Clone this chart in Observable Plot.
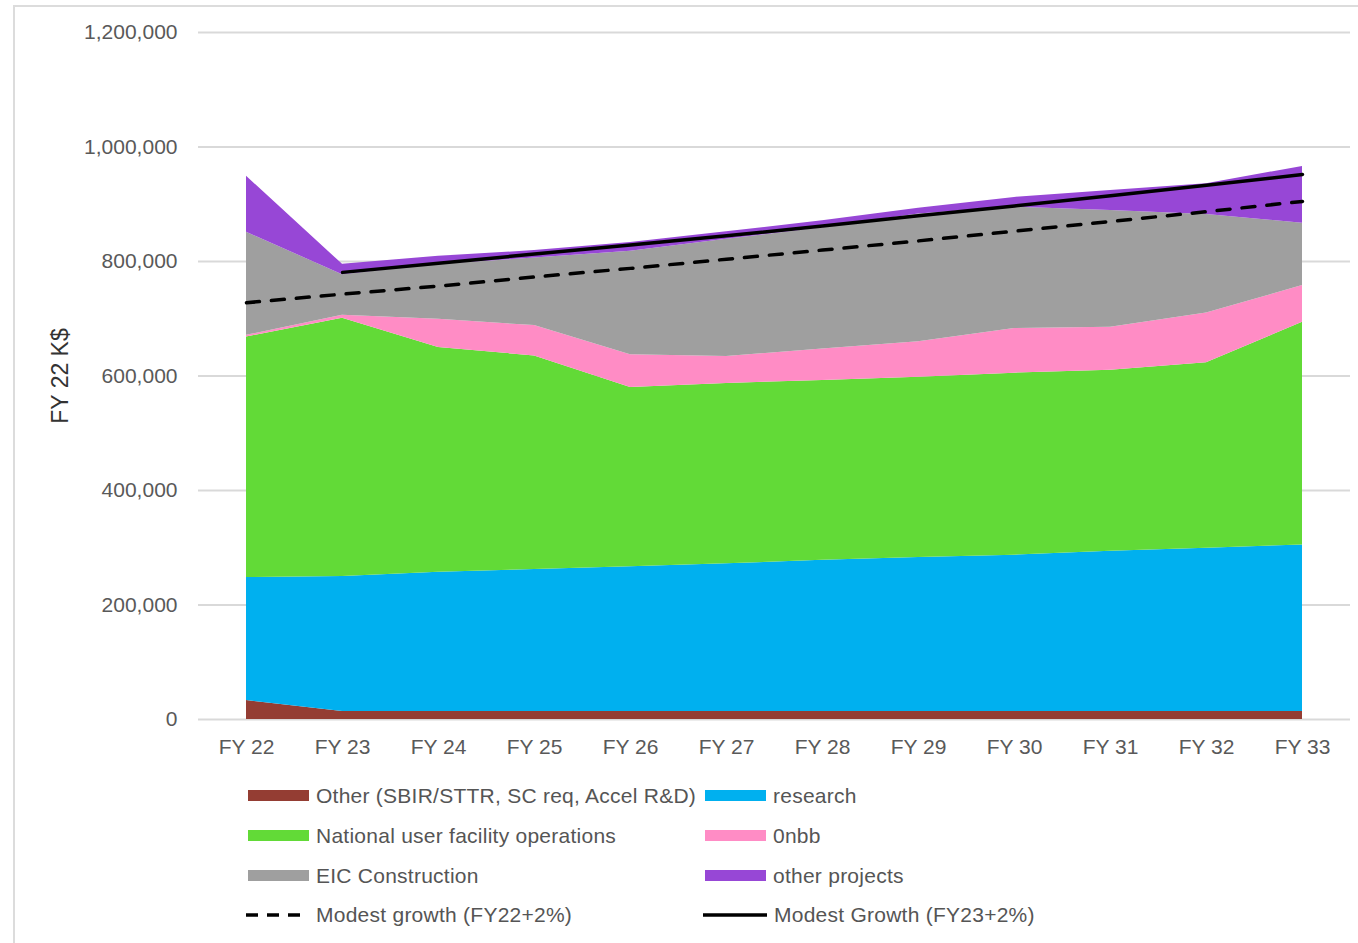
<!DOCTYPE html>
<html>
<head>
<meta charset="utf-8">
<script src="https://cdn.jsdelivr.net/npm/d3@7"></script>
<script src="https://cdn.jsdelivr.net/npm/@observablehq/plot@0.6"></script>
<style>
  body { margin: 0; background: #fff; font-family: "Liberation Sans", Arial, Helvetica, sans-serif; }
  #frame { position: absolute; left: 13px; top: 5px; width: 1360px; height: 960px; border-left: 2px solid #dcdcdc; border-top: 2px solid #dcdcdc; }
  #chart { position: absolute; left: 0; top: 0; }
  .leg { position: absolute; display: flex; align-items: center; font-size: 21px; color: #555; white-space: nowrap; letter-spacing: 0.25px; }
  .leg svg { margin-right: 7px; }
</style>
</head>
<body>
<div id="frame"></div>
<div id="chart"></div>
<div id="legend"></div>
<script>
const years = ["FY 22","FY 23","FY 24","FY 25","FY 26","FY 27","FY 28","FY 29","FY 30","FY 31","FY 32","FY 33"];
const otherSBIR = [33000, 14000, 14000, 14000, 14000, 14000, 14000, 14000, 14000, 14000, 14000, 14000];
const research = [215000, 236000, 243000, 248000, 253000, 258000, 264000, 269000, 273000, 280000, 285000, 291000];
const facilityOps = [420000, 451000, 393000, 373000, 313000, 315000, 314000, 315000, 318000, 316000, 324000, 389000];
const onbb = [3000, 5000, 49000, 53000, 57000, 47000, 55000, 62000, 78000, 75000, 87000, 64000];
const eicConstruction = [180000, 71000, 96000, 118000, 181000, 205000, 212000, 223000, 212000, 204000, 172000, 109000];
const otherProjects = [98000, 18000, 14000, 13000, 15000, 13000, 12000, 10000, 17000, 35000, 54000, 99000];
const growthFY22 = [728000, 743000, 757000, 773000, 788000, 804000, 820000, 836000, 853000, 870000, 887000, 905000];
const growthFY23 = [null, 781000, 797000, 813000, 829000, 845000, 862000, 880000, 897000, 915000, 933000, 952000];
const yTicks = [0, 200000, 400000, 600000, 800000, 1000000, 1200000];

const seriesNames = ["Other (SBIR/STTR, SC req, Accel R&D)", "research", "National user facility operations", "0nbb", "EIC Construction", "other projects"];
const seriesColors = ["#943d33", "#00b0ef", "#62da37", "#ff8cc5", "#9f9f9f", "#9747d6"];
const seriesValues = [otherSBIR, research, facilityOps, onbb, eicConstruction, otherProjects];

const stacked = seriesNames.flatMap((name, i) => years.map((yr, j) => ({year: yr, series: name, value: seriesValues[i][j]})));
const dashed = years.map((yr, j) => ({year: yr, v: growthFY22[j]}));
const solid = years.map((yr, j) => ({year: yr, v: growthFY23[j]})).filter(d => d.v != null);

const font = '"Liberation Sans", Arial, Helvetica, sans-serif';

const chart = Plot.plot({
  width: 1358,
  height: 770,
  marginLeft: 198,
  marginRight: 8,
  marginTop: 32,
  marginBottom: 51,
  style: {fontFamily: font, fontSize: "21px", color: "#595959", background: "transparent", overflow: "visible"},
  x: {type: "point", domain: years, padding: 0.5, label: null},
  y: {domain: [0, 1200000], label: null},
  color: {domain: seriesNames, range: seriesColors},
  marks: [
    Plot.gridY(yTicks, {stroke: "#d9d9d9", strokeOpacity: 1, strokeWidth: 2}),
    Plot.areaY(stacked, {x: "year", y: "value", fill: "series", order: seriesNames}),
    Plot.lineY(dashed, {x: "year", y: "v", stroke: "black", strokeWidth: 3.5, strokeDasharray: "13,12"}),
    Plot.lineY(solid, {x: "year", y: "v", stroke: "black", strokeWidth: 3.5}),
    Plot.axisY(yTicks, {tickSize: 0, tickPadding: 21, tickFormat: d3.format(","), label: null, fill: "#595959"}),
    Plot.axisX({tickSize: 0, tickPadding: 20, label: null, fill: "#595959"}),
    Plot.text(["FY 22 K$"], {frameAnchor: "left", textAnchor: "middle", lineAnchor: "middle", dx: -138, rotate: -90, fontSize: 23, fill: "#333"})
  ]
});
document.getElementById("chart").appendChild(chart);

// legend
const legendItems = [
  {name: seriesNames[0], color: seriesColors[0], type: "fill", left: 248, top: 796},
  {name: seriesNames[1], color: seriesColors[1], type: "fill", left: 705, top: 796},
  {name: seriesNames[2], color: seriesColors[2], type: "fill", left: 248, top: 836},
  {name: seriesNames[3], color: seriesColors[3], type: "fill", left: 705, top: 836},
  {name: seriesNames[4], color: seriesColors[4], type: "fill", left: 248, top: 876},
  {name: seriesNames[5], color: seriesColors[5], type: "fill", left: 705, top: 876},
  {name: "Modest growth (FY22+2%)", color: "black", type: "dash", left: 245, top: 915},
  {name: "Modest Growth (FY23+2%)", color: "black", type: "line", left: 703, top: 915}
];
const legend = document.getElementById("legend");
for (const it of legendItems) {
  const div = document.createElement("div");
  div.className = "leg";
  div.style.left = it.left + "px";
  div.style.top = (it.top - 14) + "px";
  div.style.height = "28px";
  let sw;
  if (it.type === "fill") {
    sw = `<svg width="61" height="12"><rect x="0" y="0" width="61" height="11" fill="${it.color}"/></svg>`;
  } else if (it.type === "dash") {
    sw = `<svg width="64" height="12"><line x1="1" x2="63" y1="6" y2="6" stroke="black" stroke-width="3.5" stroke-dasharray="12,9"/></svg>`;
  } else {
    sw = `<svg width="64" height="12"><line x1="0" x2="64" y1="6" y2="6" stroke="black" stroke-width="3.5"/></svg>`;
  }
  div.innerHTML = sw + `<span>${it.name}</span>`;
  legend.appendChild(div);
}
</script>
</body>
</html>
